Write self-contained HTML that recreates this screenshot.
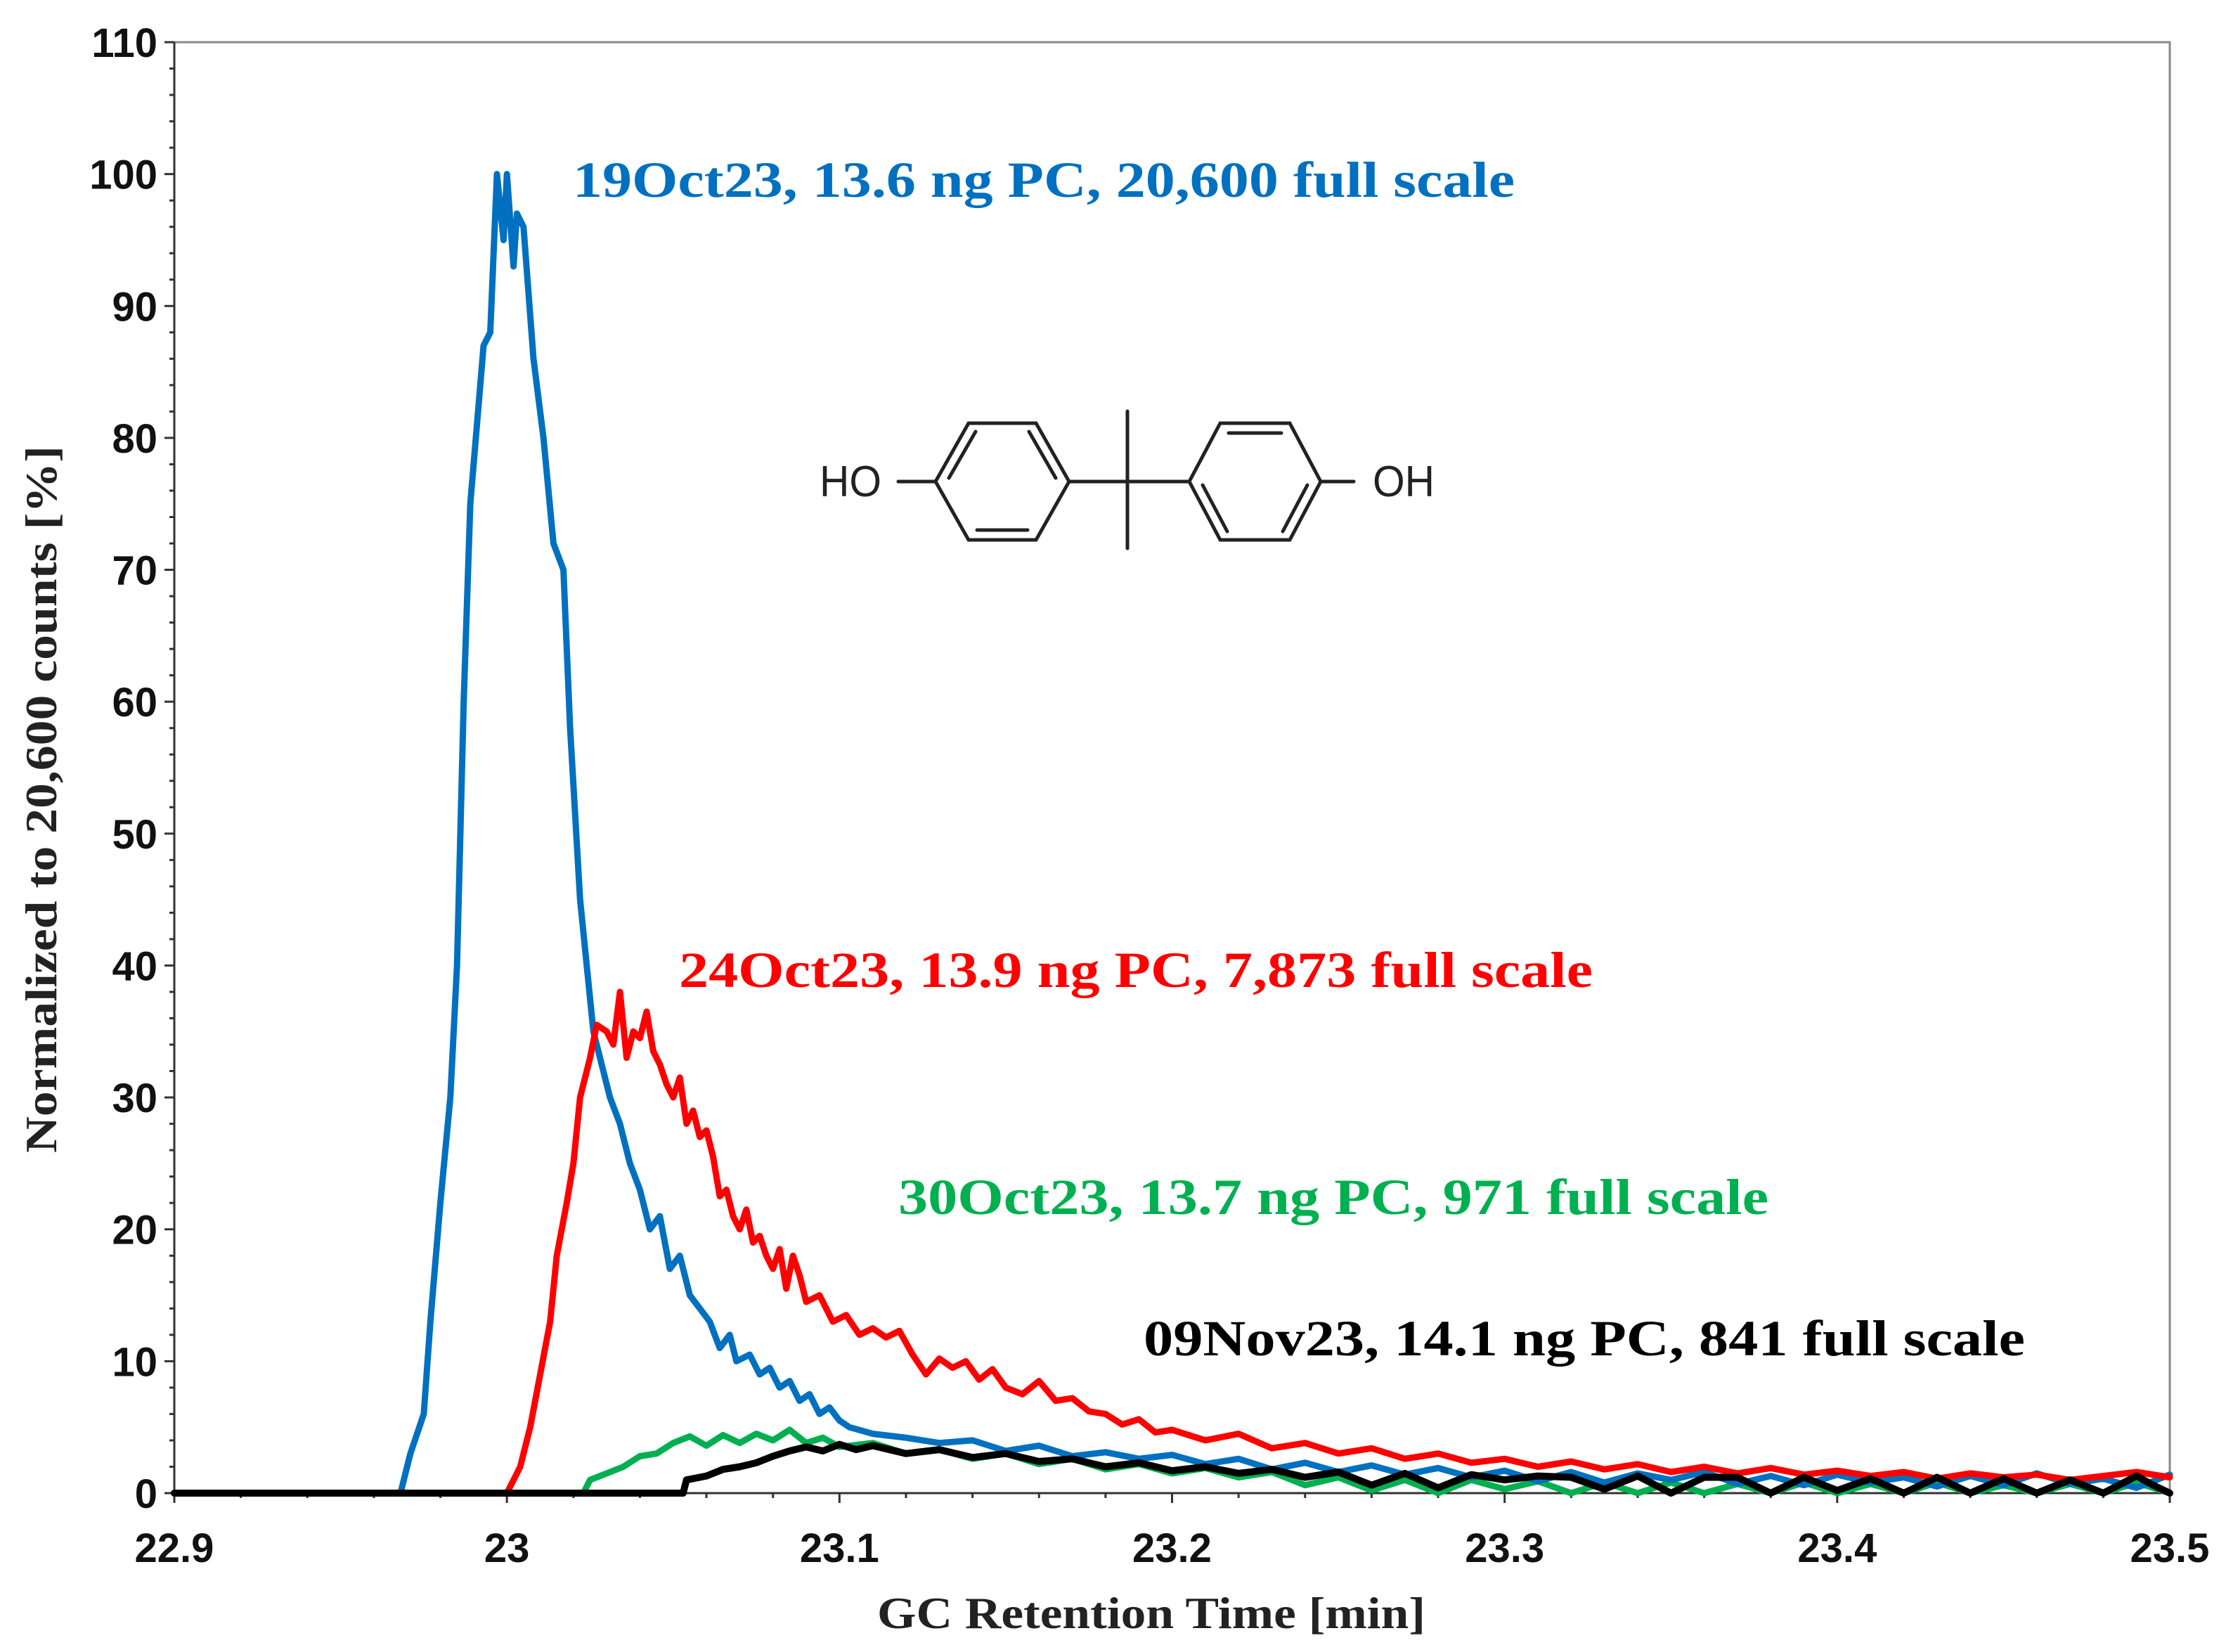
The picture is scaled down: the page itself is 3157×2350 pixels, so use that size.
<!DOCTYPE html>
<html><head><meta charset="utf-8"><style>
html,body{margin:0;padding:0;background:#fff}
svg{display:block}
</style></head><body>
<svg id="chart" width="3157" height="2350" viewBox="0 0 3157 2350" xmlns="http://www.w3.org/2000/svg">
<rect width="3157" height="2350" fill="#fff"/>
<g id="frame"></g>
<g id="series"></g>
<g id="labels"></g>
<g stroke="#222" stroke-width="5" fill="none" stroke-linecap="round">
  <line x1="1278" y1="685" x2="1331" y2="685"/>
  <polygon points="1331,685 1378,602 1474,602 1521,685 1474,768 1378,768"/>
  <line x1="1350" y1="680" x2="1388" y2="614"/>
  <line x1="1464" y1="614" x2="1502" y2="680"/>
  <line x1="1390" y1="754" x2="1462" y2="754"/>
  <line x1="1521" y1="685" x2="1692" y2="685"/>
  <line x1="1604" y1="585" x2="1604" y2="780"/>
  <polygon points="1692,685 1736,602 1835,602 1879,685 1835,768 1736,768"/>
  <line x1="1748" y1="616" x2="1823" y2="616"/>
  <line x1="1711" y1="690" x2="1746" y2="756"/>
  <line x1="1825" y1="756" x2="1860" y2="690"/>
  <line x1="1879" y1="685" x2="1926" y2="685"/>
  <text x="1166" y="706" stroke="none" fill="#222" font-family="Liberation Sans, sans-serif" font-size="62" textLength="88" lengthAdjust="spacingAndGlyphs">HO</text>
  <text x="1953" y="706" stroke="none" fill="#222" font-family="Liberation Sans, sans-serif" font-size="62" textLength="88" lengthAdjust="spacingAndGlyphs">OH</text>
</g>
<g font-family="Liberation Serif, serif" font-weight="bold" font-size="72">
  <text x="815" y="280" fill="#0070C0" textLength="1340" lengthAdjust="spacingAndGlyphs">19Oct23, 13.6 ng PC, 20,600 full scale</text>
  <text x="966" y="1404" fill="#FF0000" textLength="1300" lengthAdjust="spacingAndGlyphs">24Oct23, 13.9 ng PC, 7,873 full scale</text>
  <text x="1278" y="1727" fill="#00B050" textLength="1238" lengthAdjust="spacingAndGlyphs">30Oct23, 13.7 ng PC, 971 full scale</text>
  <text x="1627" y="1928" fill="#000" textLength="1254" lengthAdjust="spacingAndGlyphs">09Nov23, 14.1 ng PC, 841 full scale</text>
</g>
<text x="1638" y="2316" text-anchor="middle" font-family="Liberation Serif, serif" font-weight="bold" font-size="64" textLength="780" lengthAdjust="spacingAndGlyphs" fill="#222">GC Retention Time [min]</text>
<text transform="translate(80,1137) rotate(-90)" text-anchor="middle" font-family="Liberation Serif, serif" font-weight="bold" font-size="64" textLength="1006" lengthAdjust="spacingAndGlyphs" fill="#222">Normalized to 20,600 counts [%]</text>
</svg>
<script>
const xTicks = [22.9, 23.0, 23.1, 23.2, 23.3, 23.4, 23.5];
const xTickLabels = ["22.9", "23", "23.1", "23.2", "23.3", "23.4", "23.5"];
const yTicks = [0, 10, 20, 30, 40, 50, 60, 70, 80, 90, 100, 110];
const yTickLabels = ["0", "10", "20", "30", "40", "50", "60", "70", "80", "90", "100", "110"];

const blueTimes = [22.9,22.968,22.971,22.975,22.977,22.980,22.983,22.985,22.987,22.989,22.993,22.995,22.997,22.999,23.000,23.002,23.003,23.005,23.008,23.011,23.014,23.017,23.019,23.022,23.026,23.031,23.034,23.037,23.040,23.043,23.046,23.049,23.052,23.055,23.058,23.061,23.064,23.067,23.069,23.073,23.076,23.079,23.082,23.085,23.088,23.091,23.094,23.097,23.100,23.103,23.11,23.12,23.13,23.14,23.15,23.16,23.17,23.18,23.19,23.20,23.21,23.22,23.23,23.24,23.25,23.26,23.27,23.28,23.29,23.30,23.31,23.32,23.33,23.34,23.35,23.36,23.37,23.38,23.39,23.40,23.41,23.42,23.43,23.44,23.45,23.46,23.47,23.48,23.49,23.50];
const blueValues = [0,0,3,6,13,22,30,40,60,75,87,88,100,95,100,93,97,96,86,80,72,70,58,45,35,30,28,25,23,20,21,17,18,15,14,13,11,12,10,10.5,9,9.5,8,8.5,7,7.5,6,6.5,5.5,5,4.5,4.2,3.8,4,3.2,3.6,2.8,3.1,2.6,2.9,2.2,2.6,1.8,2.3,1.6,2.1,1.4,1.9,1.2,1.7,0.9,1.6,0.8,1.5,1.0,1.6,0.7,1.3,0.6,1.4,0.8,1.2,0.5,1.3,0.6,1.5,0.7,1.1,0.4,1.4,1.0,1.5];

const redTimes = [22.9,23.0,23.004,23.007,23.01,23.013,23.015,23.018,23.02,23.022,23.025,23.027,23.03,23.032,23.034,23.036,23.038,23.04,23.042,23.044,23.046,23.048,23.05,23.052,23.054,23.056,23.058,23.06,23.062,23.064,23.066,23.068,23.07,23.072,23.074,23.076,23.078,23.08,23.082,23.084,23.086,23.088,23.09,23.094,23.098,23.102,23.106,23.11,23.114,23.118,23.122,23.126,23.13,23.134,23.138,23.142,23.146,23.15,23.155,23.16,23.165,23.17,23.175,23.18,23.185,23.19,23.195,23.2,23.21,23.22,23.23,23.24,23.25,23.26,23.27,23.28,23.29,23.3,23.31,23.32,23.33,23.34,23.35,23.36,23.37,23.38,23.39,23.40,23.41,23.42,23.43,23.44,23.45,23.46,23.47,23.48,23.49,23.50];
const redValues = [0,0,2,5,9,13,18,22,25,30,33,35.5,35,34,38,33,35,34.5,36.5,33.5,32.5,31,30,31.5,28,29,27,27.5,25.5,22.5,23,21,20,21.5,19,19.5,18,17,18.5,15.5,18,16.5,14.5,15,13,13.5,12,12.5,11.8,12.3,10.5,9,10.2,9.5,10,8.6,9.4,8,7.5,8.5,7,7.2,6.2,6,5.2,5.6,4.6,4.8,4,4.5,3.4,3.8,3,3.4,2.6,3,2.3,2.6,2,2.4,1.8,2.2,1.6,2.0,1.5,1.9,1.4,1.7,1.3,1.6,1.1,1.5,1.2,1.4,1.0,1.3,1.6,1.2];

const greenTimes = [22.9,23.023,23.025,23.03,23.035,23.04,23.045,23.05,23.055,23.06,23.065,23.07,23.075,23.08,23.085,23.09,23.095,23.1,23.11,23.12,23.13,23.14,23.15,23.16,23.17,23.18,23.19,23.20,23.21,23.22,23.23,23.24,23.25,23.26,23.27,23.28,23.29,23.30,23.31,23.32,23.33,23.34,23.35,23.36,23.37,23.38,23.39,23.40,23.41,23.42,23.43,23.44,23.45,23.46,23.47,23.48,23.49,23.50];
const greenValues = [0,0,1,1.5,2,2.8,3,3.8,4.3,3.6,4.4,3.8,4.5,4,4.8,3.8,4.2,3.5,3.8,3.0,3.3,2.6,3.0,2.2,2.6,1.8,2.2,1.5,1.9,1.2,1.6,0.6,1.2,0.2,1.0,0,1.0,0.3,0.9,0,0.8,0,0.8,0,0.7,0,0.8,0,0.7,0,0.8,0,0.6,0,0.7,0,0.8,0];

const blackTimes = [22.9,23.053,23.054,23.06,23.065,23.07,23.075,23.08,23.085,23.09,23.095,23.1,23.105,23.11,23.12,23.13,23.14,23.15,23.16,23.17,23.18,23.19,23.20,23.21,23.22,23.23,23.24,23.25,23.26,23.27,23.28,23.29,23.30,23.31,23.32,23.33,23.34,23.35,23.36,23.37,23.38,23.39,23.40,23.41,23.42,23.43,23.44,23.45,23.46,23.47,23.48,23.49,23.495,23.50];
const blackValues = [0,0,1,1.3,1.8,2.0,2.3,2.8,3.2,3.5,3.2,3.7,3.3,3.6,3.0,3.3,2.7,3.0,2.4,2.6,2.0,2.3,1.7,2.0,1.5,1.8,1.2,1.6,0.6,1.5,0.4,1.4,1.0,1.3,1.2,0.3,1.3,0,1.2,1.2,0,1.2,0.2,1.1,0,1.2,0,1.1,0,1.0,0,1.3,0.6,0];

const NS = "http://www.w3.org/2000/svg";
const L = 248, R = 3087, T = 60, B = 2124;
const xMin = 22.9, xMax = 23.5, yMin = 0, yMax = 110;
function X(t){ return L + (t - xMin) / (xMax - xMin) * (R - L); }
function Y(v){ return B - (v - yMin) / (yMax - yMin) * (B - T); }
function mk(tag, attrs, parent){
  const e = document.createElementNS(NS, tag);
  for (const k in attrs) e.setAttribute(k, attrs[k]);
  parent.appendChild(e);
  return e;
}
const frame = document.getElementById('frame');
const labels = document.getElementById('labels');
const series = document.getElementById('series');

const box = mk('path', {d:`M${L},${T} H${R} V${B}`, stroke:'#888', 'stroke-width':3, fill:'none'}, frame);


const yAxis = mk('line', {x1:L, y1:T, x2:L, y2:B, stroke:'#333', 'stroke-width':3}, frame);


const xAxis = mk('line', {x1:L, y1:B, x2:R, y2:B, stroke:'#333', 'stroke-width':3}, frame);



for (let v = 0; v <= 110; v += 2) {
  const major = v % 10 === 0;
  const tk = mk('line', {x1:L - (major ? 14 : 7), y1:Y(v), x2:L, y2:Y(v), stroke:'#333', 'stroke-width':3}, frame);
  
  
}
yTicks.forEach((v, i) => {
  const t = mk('text', {x:224, y:Y(v) + 21, 'text-anchor':'end', 'font-family':'Liberation Sans, sans-serif', 'font-weight':'bold', 'font-size':58, fill:'#111'}, labels);
  t.textContent = yTickLabels[i];
  
  
});
for (let k = 0; k <= 30; k++) {
  const t = xMin + k * 0.02;
  const major = k % 5 === 0;
  const tk = mk('line', {x1:X(t), y1:B, x2:X(t), y2:B + (major ? 14 : 7), stroke:'#333', 'stroke-width':3}, frame);
  
  
}
xTicks.forEach((t, i) => {
  const tx = mk('text', {x:X(t), y:2222, 'text-anchor':'middle', 'font-family':'Liberation Sans, sans-serif', 'font-weight':'bold', 'font-size':58, fill:'#111'}, labels);
  tx.textContent = xTickLabels[i];
  
  
});

function drawSeries(times, values, color, width, name){
  const d = times.map((t, i) => (i ? 'L' : 'M') + X(t).toFixed(1) + ',' + Y(values[i]).toFixed(1)).join(' ');
  const p = mk('path', {d:d, stroke:color, 'stroke-width':width, fill:'none', 'stroke-linejoin':'round', 'stroke-linecap':'round'}, series);
  
  
}
drawSeries(greenTimes, greenValues, '#00B050', 9, 'series-30oct23');
drawSeries(blueTimes, blueValues, '#0070C0', 9, 'series-19oct23');
drawSeries(redTimes, redValues, '#FF0000', 9, 'series-24oct23');
drawSeries(blackTimes, blackValues, '#000000', 10, 'series-09nov23');
</script>
</body></html>
